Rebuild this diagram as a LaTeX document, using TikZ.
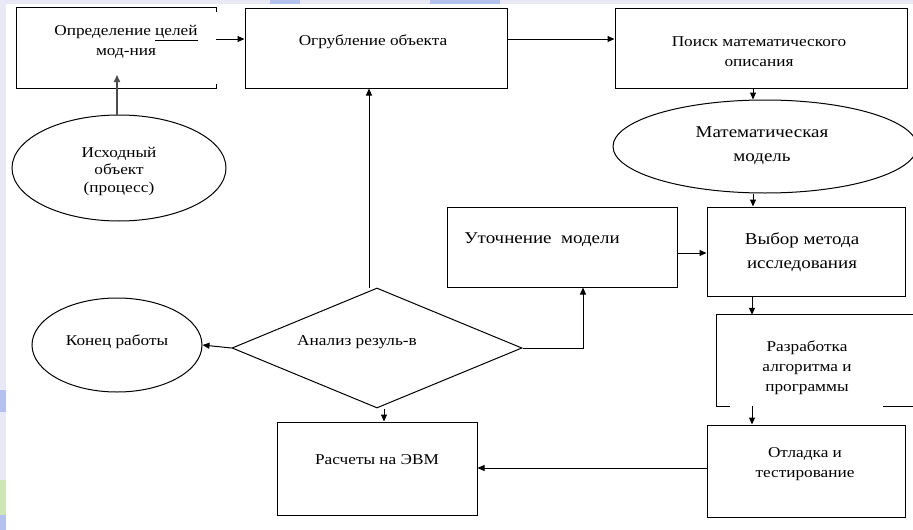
\documentclass[tikz,border=0pt]{standalone}
\usepackage{fontspec}
\setmainfont[FakeStretch=1.15]{Liberation Serif}
\usetikzlibrary{shapes.geometric,arrows.meta,calc}
\definecolor{bglav}{HTML}{E8E8F7}
\definecolor{swblue}{HTML}{B4C0EE}
\definecolor{swgreen}{HTML}{CDE6B4}
\tikzset{
  box/.style={draw, line width=1pt, inner sep=0pt, rectangle},
  ell/.style={draw, line width=1pt, inner sep=0pt, ellipse},
  dia/.style={draw, line width=1pt, inner sep=0pt, diamond},
  txt/.style={align=center, inner sep=0pt, font=\fontsize{15}{20}\selectfont},
  bigtxt/.style={align=center, inner sep=0pt, font=\fontsize{16.5}{24}\selectfont},
  arr/.style={line width=1pt, -{Triangle[length=7pt,width=6pt]}},
}
\begin{document}
\begin{tikzpicture}[x=1pt,y=-1pt]
\useasboundingbox (0,0) rectangle (913,530);
% slide background
\fill[bglav] (0,0) rectangle (913,530);
\fill[swblue] (270,0) rectangle (300,4);
\fill[swblue] (430,0) rectangle (500,4);
\fill[swblue] (0,390) rectangle (6,412);
\fill[swgreen] (0,480) rectangle (6,515);
\fill[swblue] (0,515) rectangle (6,530);
\fill[white] (6,4) rectangle (913,530);

% boxes
\node[minimum width=199pt, minimum height=80pt, inner sep=0pt] (d1) at (116.5,48) {};
\draw[line width=1pt] ([yshift=-4pt]d1.north east) -- (d1.north east) -- (d1.north west)
  -- (d1.south west) -- (d1.south east) -- ([yshift=4pt]d1.south east);
\node[box, minimum width=262pt, minimum height=80pt] (d2) at (376,48) {};
\node[box, minimum width=292pt, minimum height=80pt] (d3) at (761,48) {};
\node[ell, minimum width=214pt, minimum height=106pt] (e1) at (119,168) {};
\node[ell, minimum width=304pt, minimum height=93pt] (e2) at (765,146.5) {};
\node[box, minimum width=230pt, minimum height=80pt] (d4) at (562,247) {};
\node[box, minimum width=198pt, minimum height=89pt] (d5) at (806,251.5) {};
\node[dia, minimum width=290pt, minimum height=120pt] (dm) at (377,348) {};
\node[ell, minimum width=170pt, minimum height=94pt] (e3) at (117,345) {};
\node[box, minimum width=200pt, minimum height=93pt] (d6) at (377,468.5) {};
\node[minimum width=203pt, minimum height=91pt, inner sep=0pt] (d7) at (818.5,360.5) {};
\draw[line width=1pt] ([xshift=13pt]d7.south west) -- (d7.south west) -- (d7.north west) -- (d7.north east);
\draw[line width=1pt] ([xshift=-37pt]d7.south east) -- (d7.south east);
\node[box, minimum width=198pt, minimum height=92pt] (d8) at (806,471) {};

% texts
\node[txt] (t1) at (126,42) {Определение \underline{целей}\\мод-ния};
\node[txt] (t2) at (373,42) {Огрубление объекта};
\node[txt] (t3) at (759,52) {Поиск математического\\описания};
\node[txt, font=\fontsize{15}{17.5}\selectfont] (t4) at (119,171) {Исходный\\объект\\(процесс)};
\node[bigtxt] (t5) at (762,146) {Математическая\\модель};
\node[bigtxt] (t6) at (542,240) {Уточнение\ \ модели};
\node[bigtxt] (t7) at (802,252) {Выбор метода\\исследования};
\node[txt] (t8) at (357,342) {Анализ резуль-в};
\node[txt] (t9) at (117,342) {Конец работы};
\node[txt] (t10) at (377,460) {Расчеты на ЭВМ};
\node[txt] (t11) at (807,367.5) {Разработка\\алгоритма и\\программы};
\node[txt] (t12) at (805,464) {Отладка и\\тестирование};

% connectors
\draw[arr] (d1.east |- 0,39) -- (d2.west |- 0,39);
\draw[arr] (d2.east |- 0,39) -- (d3.west |- 0,39);
\draw[arr, draw=black!70, fill=black!70, line width=1.6pt] (e1.north -| 117,0) -- (117,75);
\draw[arr] (d3.south -| 753,0) -- (e2.north -| 753,0);
\draw[arr] (e2.south -| 753,0) -- (d5.north -| 753,0);
\draw[arr] (d4.east |- 0,253) -- (d5.west |- 0,253);
\draw[arr] (d5.south -| 752,0) -- (d7.north -| 752,0);
\draw[arr] (d7.south -| 752,0) -- (d8.north -| 752,0);
\draw[arr] (d8.west |- 0,468) -- (d6.east |- 0,468);
\draw[arr] (dm.south -| 384,0) -- (d6.north -| 384,0);
\draw[arr] (dm.west) -- (e3.east);
\draw[arr] (dm.east) -| (d4.south -| 583,0);
\draw[arr] (dm.north -| 369,0) -- (d2.south -| 369,0);
\end{tikzpicture}
\end{document}
